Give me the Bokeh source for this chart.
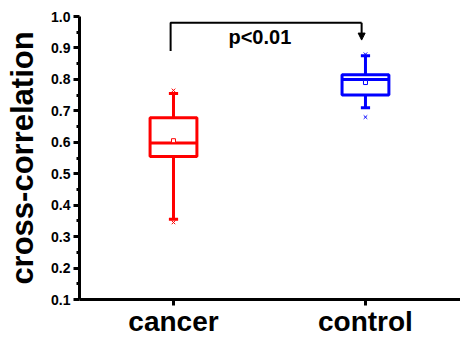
from bokeh.plotting import figure
from bokeh.models import FixedTicker, Range1d, Arrow, NormalHead, Label, PrintfTickFormatter
from bokeh.embed import file_html
from bokeh.resources import INLINE

categories = ["cancer", "control"]
positions = [1, 2]
colors = ["#ff0000", "#0000ff"]
whisker_low = [0.355, 0.71]
q1 = [0.555, 0.75]
median = [0.598, 0.80]
q3 = [0.678, 0.815]
whisker_high = [0.755, 0.875]
mean = [0.605, 0.79]
minimum = [0.345, 0.68]
maximum = [0.765, 0.88]
y_ticks = [0.1, 0.2, 0.3, 0.4, 0.5, 0.6, 0.7, 0.8, 0.9, 1.0]
y_minor = [0.15, 0.25, 0.35, 0.45, 0.55, 0.65, 0.75, 0.85, 0.95]
p_text = "p<0.01"

FONT = "Liberation Sans"

p = figure(width=460, height=339, output_backend="svg", toolbar_location=None,
           x_range=Range1d(0.5104, 2.495), y_range=Range1d(0.1, 1.0),
           min_border_left=79, min_border_top=16, min_border_right=0, min_border_bottom=0)
p.outline_line_color = None
p.grid.visible = False
p.background_fill_color = "white"

hw = 0.122
cw = 0.024
for i in range(2):
    x = positions[i]
    c = colors[i]
    p.segment(x0=[x, x], y0=[whisker_low[i], q3[i]], x1=[x, x], y1=[q1[i], whisker_high[i]],
              line_color=c, line_width=3)
    p.segment(x0=[x - cw, x - cw], y0=[whisker_low[i], whisker_high[i]],
              x1=[x + cw, x + cw], y1=[whisker_low[i], whisker_high[i]], line_color=c, line_width=3)
    p.quad(left=[x - hw], right=[x + hw], bottom=[q1[i]], top=[q3[i]],
           fill_color=None, line_color=c, line_width=3)
    p.segment(x0=[x - hw], y0=[median[i]], x1=[x + hw], y1=[median[i]], line_color=c, line_width=3)
    p.scatter(x=[x], y=[mean[i]], marker="square", size=4, fill_color="white",
              line_color=c, line_width=1)
    p.scatter(x=[x, x], y=[minimum[i], maximum[i]], marker="x", size=5, line_color=c, line_width=1)

# significance bracket
p.line(x=[0.985, 0.985, 1.98], y=[0.89, 0.98, 0.98], line_color="black", line_width=2)
p.add_layout(Arrow(end=NormalHead(size=7, fill_color="black", line_color="black"),
                   x_start=1.98, y_start=0.98, x_end=1.98, y_end=0.925,
                   line_color="black", line_width=2))
p.add_layout(Label(x=1.45, y=0.935, text=p_text, text_font=FONT, text_font_style="bold",
                   text_font_size="20px", text_align="center", text_baseline="middle",
                   text_color="black"))

# axes
p.yaxis.ticker = FixedTicker(ticks=y_ticks, minor_ticks=y_minor)
p.yaxis.formatter = PrintfTickFormatter(format="%.1f")
p.yaxis.axis_label = "cross-correlation"
p.yaxis.axis_label_text_font = FONT
p.yaxis.axis_label_text_font_style = "bold"
p.yaxis.axis_label_text_font_size = "31px"
p.yaxis.axis_label_standoff = 8
p.yaxis.major_label_text_font = FONT
p.yaxis.major_label_text_font_style = "bold"
p.yaxis.major_label_text_font_size = "14px"
p.yaxis.major_label_standoff = 3

p.xaxis.ticker = FixedTicker(ticks=positions)
p.xaxis.major_label_overrides = {positions[i]: categories[i] for i in range(2)}
p.xaxis.major_label_text_font = FONT
p.xaxis.major_label_text_font_style = "bold"
p.xaxis.major_label_text_font_size = "28px"
p.xaxis.major_label_standoff = 0
p.xaxis.minor_tick_line_color = None

for ax in (p.xaxis, p.yaxis):
    ax.axis_line_width = 3
    ax.axis_line_color = "black"
    ax.major_tick_line_width = 3
    ax.major_tick_in = 0
    ax.major_tick_out = 6
    ax.major_label_text_color = "black"
    ax.axis_label_text_color = "black"
p.yaxis.minor_tick_line_width = 3
p.yaxis.minor_tick_in = 0
p.yaxis.minor_tick_out = 3

open("out.html", "w").write(file_html(p, INLINE))
